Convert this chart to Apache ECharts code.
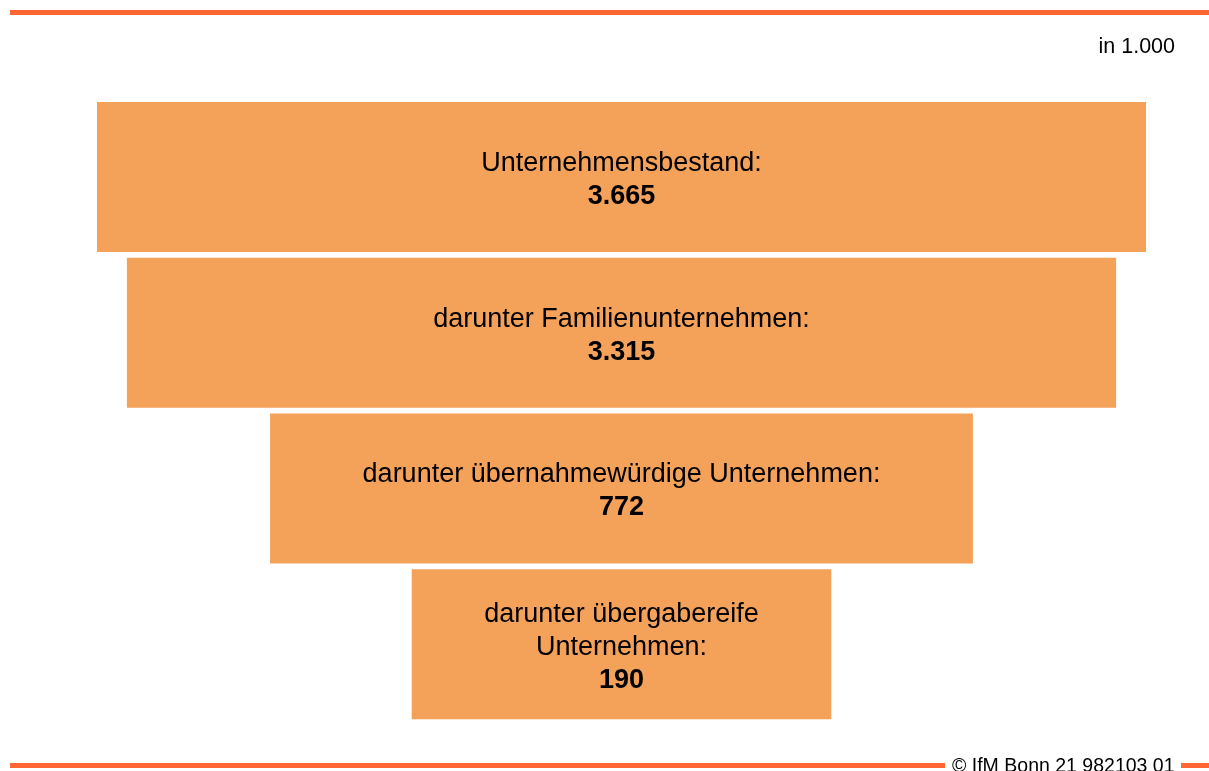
<!doctype html>
<html lang="de">
<head>
    <meta charset="utf-8">
    <title>Unternehmensbestand</title>
    <script src="https://cdn.jsdelivr.net/npm/echarts@6/dist/echarts.min.js"></script>
    <style>
        html, body { margin: 0; padding: 0; background: #fff; }
        #chart { width: 1209px; height: 771px; }
    </style>
</head>
<body>
    <div id="chart"></div>
    <script>
        // Stufen des Trichters (von oben nach unten)
        let categories = [
            'Unternehmensbestand:',
            'darunter Familienunternehmen:',
            'darunter übernahmewürdige Unternehmen:',
            'darunter übergabereife\nUnternehmen:'
        ];
        let values = [3665, 3315, 772, 190];        // in 1.000
        let shownWidth = [100, 94.3, 67, 40];        // Balkenbreite in %

        function fmt(v) {
            return String(v).replace(/\B(?=(\d{3})+(?!\d))/g, '.');
        }

        let spacer = shownWidth.map(function (w) { return (100 - w) / 2; });

        let myChart = echarts.init(document.getElementById('chart'));
        let orange = '#ff6633';
        let option = {
            animation: false,
            grid: { left: 97, right: 63, top: 99, height: 623 },
            xAxis: { type: 'value', min: 0, max: 100, show: false },
            yAxis: { type: 'category', data: categories, inverse: true, show: false },
            series: [
                {
                    type: 'bar',
                    stack: 'f',
                    data: spacer,
                    barWidth: 150,
                    itemStyle: { color: 'transparent' },
                    silent: true
                },
                {
                    type: 'bar',
                    stack: 'f',
                    barWidth: 150,
                    data: shownWidth,
                    itemStyle: { color: '#f4a15a' },
                    label: {
                        show: true,
                        position: 'inside',
                        offset: [0, 3],
                        formatter: function (p) {
                            let lines = categories[p.dataIndex].split('\n');
                            return lines.map(function (l) { return '{t|' + l + '}'; }).join('\n') +
                                '\n{b|' + fmt(values[p.dataIndex]) + '}';
                        },
                        rich: {
                            t: { fontFamily: 'Liberation Sans', fontSize: 27, color: '#000', lineHeight: 33 },
                            b: { fontFamily: 'Liberation Sans', fontSize: 27, fontWeight: 'bold', color: '#000', lineHeight: 33 }
                        }
                    }
                }
            ],
            graphic: [
                { type: 'rect', shape: { x: 10, y: 10, width: 1199, height: 5 }, style: { fill: orange } },
                { type: 'rect', shape: { x: 10, y: 763, width: 935, height: 5 }, style: { fill: orange } },
                { type: 'rect', shape: { x: 1181, y: 763, width: 28, height: 5 }, style: { fill: orange } },
                {
                    type: 'text', right: 34, top: 36,
                    style: { text: 'in 1.000', font: '21.5px "Liberation Sans"', fill: '#000' }
                },
                {
                    type: 'text', left: 952, top: 757,
                    style: { text: '© IfM Bonn 21 982103 01', font: '19.5px "Liberation Sans"', fill: '#000' }
                }
            ]
        };
        myChart.setOption(option);
    </script>
</body>
</html>
